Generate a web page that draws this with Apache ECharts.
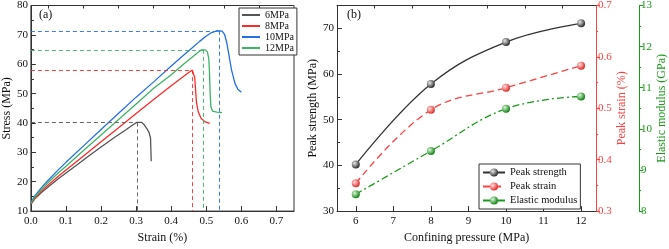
<!DOCTYPE html>
<html>
<head>
<meta charset="utf-8">
<script src="https://cdn.jsdelivr.net/npm/echarts@6/dist/echarts.min.js"></script>
<style>
  html, body { margin: 0; background: #fff; }
  #chart { width: 669px; height: 249px; }
</style>
</head>
<body>
<div id="chart"></div>
<script>
const FONT = '"Liberation Serif", "Times New Roman", serif'

// panel (a): stress-strain curves, [strain %, stress MPa]
const curve6 = [[0, 12.3], [0.01, 14], [0.03, 16.3], [0.05, 18.3], [0.08, 21.2], [0.1, 23], [0.13, 25.6], [0.16, 28.3],
  [0.2, 31.8], [0.24, 35.2], [0.27, 37.6], [0.29, 39.3], [0.302, 40.2], [0.316, 40.2], [0.322, 39.5], [0.33, 38.2],
  [0.337, 36.7], [0.341, 34.8], [0.342, 31], [0.343, 27]]
const curve8 = [[0, 12.5], [0.01, 14.2], [0.03, 16.8], [0.05, 19], [0.08, 22], [0.1, 24], [0.15, 28.8], [0.2, 33.6],
  [0.25, 38.4], [0.3, 43.2], [0.35, 48], [0.4, 52.7], [0.43, 55.4], [0.45, 57.2], [0.46, 58], [0.464, 57.6],
  [0.467, 55.5], [0.469, 52], [0.472, 47], [0.477, 43.8], [0.485, 41.6], [0.495, 40.5], [0.51, 39.9]]
const curve10 = [[0, 12.8], [0.01, 15], [0.03, 18], [0.05, 20.6], [0.08, 24.3], [0.1, 26.6], [0.15, 32.2], [0.2, 37.8],
  [0.25, 43.3], [0.3, 48.8], [0.35, 54], [0.4, 59.4], [0.44, 63.6], [0.46, 65.6], [0.48, 67.7], [0.5, 69.6],
  [0.515, 70.8], [0.53, 71.4], [0.545, 71.3], [0.552, 70.2], [0.558, 67.5], [0.564, 63.5], [0.572, 58],
  [0.582, 53.4], [0.59, 51.5], [0.6, 50.5]]
const curve12 = [[0, 12.6], [0.01, 14.6], [0.03, 17.4], [0.05, 19.8], [0.08, 23.2], [0.1, 25.3], [0.15, 30.6],
  [0.2, 35.9], [0.25, 41.2], [0.3, 46.5], [0.35, 51.8], [0.4, 56.4], [0.44, 60.5], [0.47, 63.4], [0.486, 64.9],
  [0.497, 64.9], [0.503, 64.2], [0.507, 62], [0.509, 57.5], [0.511, 50], [0.513, 45.5], [0.518, 44],
  [0.53, 43.7], [0.545, 43.5]]
const curveNames = ['6MPa', '8MPa', '10MPa', '12MPa']
const curveColors = ['#555555', '#ff2a2a', '#2470e6', '#3cb465']
const peakX = [0.302, 0.46, 0.538, 0.492]
const peakY = [40.2, 58.0, 71.4, 64.9]

const strainTicks = [0, 0.1, 0.2, 0.3, 0.4, 0.5, 0.6, 0.7]
const strainMinor = [0.05, 0.15, 0.25, 0.35, 0.45, 0.55, 0.65]

// panel (b): peak values against confining pressure
const pressures = [6, 8, 10, 12]
const peakStrength = [40.2, 57.8, 67.0, 71.1]
const peakStrain = [0.354, 0.497, 0.540, 0.583]
const elasticModulus = [8.41, 9.46, 10.49, 10.79]

const pressureTicks = [6, 7, 8, 9, 10, 11, 12]
const pressureMinor = [6.5, 7.5, 8.5, 9.5, 10.5, 11.5]
const strengthTicks = [30, 40, 50, 60, 70]
const strengthMinor = [35, 45, 55, 65, 75]

const chart = echarts.init(document.getElementById('chart'))

const label = { fontFamily: FONT, fontSize: 11, color: '#111' }
const nameStyle = { fontFamily: FONT, fontSize: 12, color: '#111' }
const blackLine = { lineStyle: { color: '#333', width: 1 } }

function ball(light, dark) {
  return new echarts.graphic.RadialGradient(0.35, 0.35, 0.7, [
    { offset: 0, color: light },
    { offset: 1, color: dark },
  ])
}

const curves = [curve6, curve8, curve10, curve12]
const curveSeries = curves.map((data, i) => ({
  type: 'line',
  name: curveNames[i],
  data,
  xAxisIndex: 0,
  yAxisIndex: 0,
  symbol: 'none',
  lineStyle: { color: curveColors[i], width: 1.3 },
  itemStyle: { color: curveColors[i] },
  z: 3,
  markLine: {
    silent: true,
    symbol: 'none',
    label: { show: false },
    lineStyle: { color: curveColors[i], type: [4, 3], width: 1, opacity: 0.9 },
    data: [
      [{ coord: [0, peakY[i]] }, { coord: [peakX[i], peakY[i]] }],
      [{ coord: [peakX[i], peakY[i]] }, { coord: [peakX[i], 10] }],
    ],
  },
}))

chart.setOption({
  animation: false,
  grid: [
    { left: 29, top: 5, width: 265, height: 213, show: true, borderColor: '#333', borderWidth: 1 },
    { left: 337, top: 5, width: 262, height: 213 },
  ],
  legend: [
    {
      data: curveNames.map(name => ({ name, icon: 'rect' })),
      left: 239, top: 8,
      orient: 'vertical',
      padding: [2, 3, 2, 3],
      itemWidth: 18, itemHeight: 2, itemGap: 1,
      borderColor: '#333', borderWidth: 1, borderRadius: 0,
      backgroundColor: '#fff',
      textStyle: { fontFamily: FONT, fontSize: 10, color: '#111', lineHeight: 10 },
    },
    {
      data: ['Peak strength', 'Peak strain', 'Elastic modulus'],
      left: 479, top: 164,
      orient: 'vertical',
      padding: [3, 3, 3, 3],
      itemWidth: 22, itemHeight: 10, itemGap: 3,
      borderColor: '#333', borderWidth: 1, borderRadius: 0,
      backgroundColor: '#fff',
      textStyle: { fontFamily: FONT, fontSize: 10.5, color: '#111', lineHeight: 10 },
    },
  ],
  xAxis: [
    {
      gridIndex: 0, type: 'value', min: 0, max: 0.75,
      name: 'Strain (%)', nameLocation: 'middle', nameGap: 15, nameTextStyle: nameStyle,
      axisLine: blackLine,
      axisTick: { inside: true, length: 5, lineStyle: { color: '#333' }, customValues: strainTicks },
      axisLabel: { ...label, margin: 5, customValues: strainTicks, formatter: v => v.toFixed(1) },
      splitLine: { show: false },
    },
    {
      gridIndex: 0, type: 'value', min: 0, max: 0.75,
      axisLine: { show: false },
      axisTick: { inside: true, length: 3, lineStyle: { color: '#333' }, customValues: strainMinor },
      axisLabel: { show: false },
      splitLine: { show: false },
    },
    {
      gridIndex: 1, type: 'value', min: 5.5, max: 12.4,
      name: 'Confining pressure (MPa)', nameLocation: 'middle', nameGap: 15, nameTextStyle: nameStyle,
      axisLine: blackLine,
      axisTick: { inside: true, length: 5, lineStyle: { color: '#333' }, customValues: pressureTicks },
      axisLabel: { ...label, margin: 5, customValues: pressureTicks },
      splitLine: { show: false },
    },
    {
      gridIndex: 1, type: 'value', min: 5.5, max: 12.4,
      axisLine: { show: false },
      axisTick: { inside: true, length: 3, lineStyle: { color: '#333' }, customValues: pressureMinor },
      axisLabel: { show: false },
      splitLine: { show: false },
    },
    {
      gridIndex: 1, type: 'value', min: 5.5, max: 12.4, position: 'top',
      axisLine: blackLine,
      axisTick: { show: false },
      axisLabel: { show: false },
      splitLine: { show: false },
    },
  ],
  yAxis: [
    {
      gridIndex: 0, type: 'value', min: 10, max: 80, interval: 10,
      name: 'Stress (MPa)', nameLocation: 'middle', nameGap: 14, nameTextStyle: nameStyle,
      axisLine: { show: true, ...blackLine },
      axisTick: { inside: true, length: 5, lineStyle: { color: '#333' } },
      minorTick: { show: true, splitNumber: 2, length: 3, lineStyle: { color: '#333' } },
      axisLabel: { ...label, margin: 3 },
      splitLine: { show: false },
    },
    {
      gridIndex: 1, type: 'value', min: 30, max: 75, position: 'left',
      name: 'Peak strength (MPa)', nameLocation: 'middle', nameGap: 14, nameTextStyle: nameStyle,
      axisLine: { show: true, ...blackLine },
      axisTick: { inside: true, length: 5, lineStyle: { color: '#333' }, customValues: strengthTicks },
      axisLabel: { ...label, margin: 3, customValues: strengthTicks },
      splitLine: { show: false },
    },
    {
      gridIndex: 1, type: 'value', min: 30, max: 75, position: 'left',
      axisLine: { show: false },
      axisTick: { inside: true, length: 3, lineStyle: { color: '#333' }, customValues: strengthMinor },
      axisLabel: { show: false },
      splitLine: { show: false },
    },
    {
      gridIndex: 1, type: 'value', min: 0.3, max: 0.7, interval: 0.1, position: 'right',
      name: 'Peak strain (%)', nameLocation: 'middle', nameGap: 19, nameRotate: 90,
      nameTextStyle: { ...nameStyle, color: '#ff4040' },
      axisLine: { show: true, lineStyle: { color: '#ff4040', width: 1 } },
      axisTick: { inside: false, length: 4, lineStyle: { color: '#ff4040' } },
      minorTick: { show: true, splitNumber: 2, length: 2, lineStyle: { color: '#ff4040' } },
      axisLabel: { ...label, color: '#ff4040', margin: 2, formatter: v => v.toFixed(1) },
      splitLine: { show: false },
    },
    {
      gridIndex: 1, type: 'value', min: 8, max: 13, interval: 1, position: 'right', offset: 43,
      name: 'Elastic modulus (GPa)', nameLocation: 'middle', nameGap: 15, nameRotate: 90,
      nameTextStyle: { ...nameStyle, color: '#1a9a1a' },
      axisLine: { show: true, lineStyle: { color: '#1a9a1a', width: 1 } },
      axisTick: { inside: false, length: 4, lineStyle: { color: '#1a9a1a' } },
      minorTick: { show: true, splitNumber: 2, length: 2, lineStyle: { color: '#1a9a1a' } },
      axisLabel: { ...label, color: '#1a9a1a', margin: 2 },
      splitLine: { show: false },
    },
  ],
  graphic: [
    { type: 'text', left: 39, top: 9, style: { text: '(a)', font: '12px ' + FONT, fill: '#111' } },
    { type: 'text', left: 347, top: 9, style: { text: '(b)', font: '12px ' + FONT, fill: '#111' } },
  ],
  series: [
    ...curveSeries,
    {
      type: 'line',
      name: 'Peak strength',
      data: pressures.map((p, i) => [p, peakStrength[i]]),
      xAxisIndex: 2, yAxisIndex: 1,
      smooth: 0.4,
      symbol: 'circle', symbolSize: 8,
      lineStyle: { color: '#333', width: 1.3 },
      itemStyle: { color: ball('#e8e8e8', '#222') },
    },
    {
      type: 'line',
      name: 'Peak strain',
      data: pressures.map((p, i) => [p, peakStrain[i]]),
      xAxisIndex: 2, yAxisIndex: 3,
      smooth: 0.4,
      symbol: 'circle', symbolSize: 8,
      lineStyle: { color: '#ff4040', width: 1.3, type: [7, 4] },
      itemStyle: { color: ball('#ffe0e0', '#e02020') },
    },
    {
      type: 'line',
      name: 'Elastic modulus',
      data: pressures.map((p, i) => [p, elasticModulus[i]]),
      xAxisIndex: 2, yAxisIndex: 4,
      smooth: 0.4,
      symbol: 'circle', symbolSize: 8,
      lineStyle: { color: '#1a9a1a', width: 1.3, type: [7, 3, 2, 3] },
      itemStyle: { color: ball('#d8f8d8', '#0a7a0a') },
    },
  ],
})
</script>
</body>
</html>
